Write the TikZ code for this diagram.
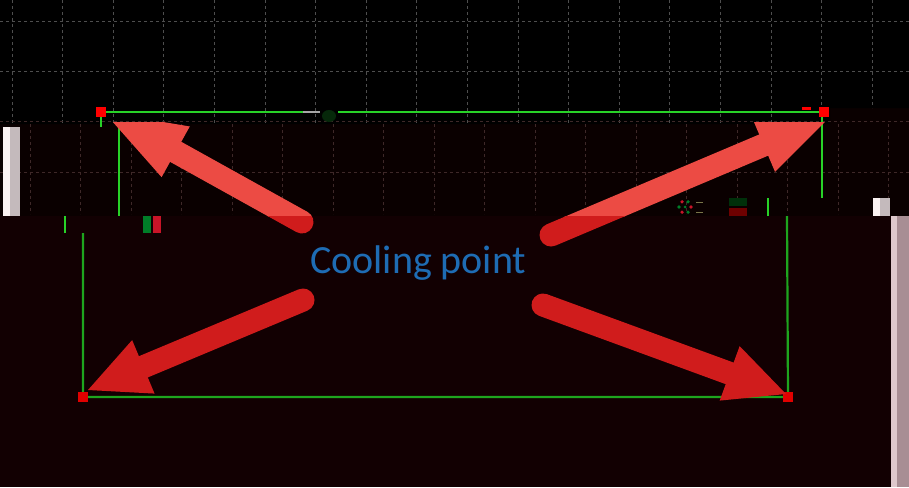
\documentclass[tikz,border=0pt]{standalone}
\usepackage{fontspec}
\setmainfont{Carlito}
\usetikzlibrary{calc}
\definecolor{bgmid}{RGB}{10,0,0}
\definecolor{bglow}{RGB}{18,0,2}
\definecolor{gridgray}{RGB}{78,78,78}
\definecolor{gridred}{RGB}{62,40,40}
\definecolor{grn}{RGB}{40,210,40}
\definecolor{grnlow}{RGB}{30,165,30}
\definecolor{arrL}{RGB}{236,75,68}
\definecolor{arrD}{RGB}{208,28,28}
\definecolor{txtblue}{RGB}{30,108,180}
\definecolor{sqred}{RGB}{255,0,0}
\definecolor{sqredlow}{RGB}{225,0,0}
\definecolor{barwhite}{RGB}{250,242,242}
\definecolor{bargray}{RGB}{196,186,188}
\definecolor{barpink}{RGB}{222,200,204}
\definecolor{barmauve}{RGB}{168,142,148}
\definecolor{cgreen}{RGB}{0,125,40}
\definecolor{cred}{RGB}{200,20,40}
\definecolor{cdgreen}{RGB}{0,48,10}
\definecolor{cdred}{RGB}{110,0,0}
\definecolor{blobgreen}{RGB}{6,40,10}
\newcommand\bigarrow[4]{%
  \coordinate (hb) at ($(#2)!#3!(#1)$);
  \fill[#4] (#2) -- ($(hb)!29pt!90:(#2)$) -- ($(hb)!29pt!-90:(#2)$) -- cycle;
  \draw[#4, line width=23pt, line cap=round] (#1) -- (hb);
}
\tikzset{
  gridtop/.style={gridgray, line width=0.9pt, dash pattern=on 3pt off 3pt},
  gridmid/.style={gridred, line width=0.9pt, dash pattern=on 3pt off 3pt},
  gline/.style={grn, line width=2.8pt},
  glinelow/.style={grnlow, line width=2.2pt},
  marker/.style={minimum size=10pt, inner sep=0pt, fill=sqred},
  markerlow/.style={minimum size=10pt, inner sep=0pt, fill=sqredlow},
}
\begin{document}
\begin{tikzpicture}[x=1pt,y=-1pt]
\useasboundingbox (0,0) rectangle (909,487);
% backgrounds
\fill[bglow] (0,0) rectangle (909,487);
\fill[bgmid] (0,108) rectangle (909,216);
\fill[black] (0,0) -- (909,0) -- (909,108) -- (830,108) -- (830,124) -- (0,124) -- cycle;
% grids
\foreach \k in {0,...,16} \draw[gridtop] ({12+50.6*\k},0) -- ({12+50.6*\k},123);
\draw[gridtop] (872,0) -- (872,108);
\foreach \k in {0,...,17} \draw[gridmid] ({30+50.5*\k},124) -- ({30+50.5*\k},214);
\draw[gridtop] (0,21) -- (909,21);
\draw[gridtop] (0,71) -- (909,71);
\draw[gridmid] (0,121.5) -- (909,121.5);
\draw[gridmid] (0,172) -- (909,172);
% side bars
\fill[barwhite] (3,127) rectangle (10,216);
\fill[bargray] (10,127) rectangle (20,216);
\fill[barwhite] (873,198) rectangle (880,216);
\fill[bargray] (880,198) rectangle (890,216);
\fill[barpink] (891,216) rectangle (897,487);
\fill[barmauve] (897,216) rectangle (909,487);
% candles
\fill[cgreen] (143,216) rectangle (151,233);
\fill[cred] (153,216) rectangle (161,233);
\fill[cdgreen] (729,198) rectangle (747,206);
\fill[cdred] (729,208) rectangle (747,216);
% little cluster
\foreach \a/\c in {0/cred,60/cgreen,120/cred,180/cgreen,240/cred,300/cgreen}
  \fill[\c] ($(685,207)+(\a:6)$) circle (1.8);
\fill[cgreen] (685,207) circle (1.5);
\draw[yellow!40!black, line width=1pt] (696,202) -- (703,202) (696,212) -- (703,212);
% small red dash
\fill[sqred] (802,107) rectangle (811,109.5);
% coordinates of the box corners
\coordinate (TL) at (101,112);
\coordinate (TR) at (824,112);
\coordinate (BL) at (83,397);
\coordinate (BR) at (788,397);
% green lines, upper chart
\draw[gline] (TL) -- (303,112);
\draw[gray!70, line width=2.8pt] (303,112) -- (320,112);
\fill[blobgreen] (329,116) ellipse (7 and 6);
\draw[gline] (338,112) -- (TR);
\draw[gline] (TL) -- (101,127);
\draw[gline] (119,124) -- (119,216);
\draw[gline] (822,112) -- (822,198);
\draw[gline] (768,198) -- (768,216);
\draw[gline] (65,216) -- (65,233);
% green lines, lower chart
\draw[glinelow] (83,233) -- (BL) -- (BR) -- (787,216);
% markers
\node[marker] (mTL) at (TL) {};
\node[marker] (mTR) at (TR) {};
\node[markerlow] (mBL) at (BL) {};
\node[markerlow] (mBR) at (BR) {};
% arrows
\coordinate (ULtail) at (302,222); \coordinate (ULtip) at (104,112);
\coordinate (URtail) at (551,235); \coordinate (URtip) at (830,117);
\coordinate (LLtail) at (303,300); \coordinate (LLtip) at (88,390);
\coordinate (LRtail) at (543,305); \coordinate (LRtip) at (786,394);
\begin{scope}
  \clip (0,122.5) rectangle (909,216);
  \bigarrow{ULtail}{ULtip}{82pt}{arrL}
  \bigarrow{URtail}{URtip}{72pt}{arrL}
\end{scope}
\begin{scope}
  \clip (0,216) rectangle (909,487);
  \bigarrow{ULtail}{ULtip}{82pt}{arrD}
  \bigarrow{URtail}{URtip}{72pt}{arrD}
  \bigarrow{LLtail}{LLtip}{60pt}{arrD}
  \bigarrow{LRtail}{LRtip}{60pt}{arrD}
\end{scope}
% label
\node[anchor=base west, inner sep=0pt, text=txtblue, font=\fontsize{40}{41}\selectfont] (cool) at (310,273) {Cooling point};
\end{tikzpicture}
\end{document}
